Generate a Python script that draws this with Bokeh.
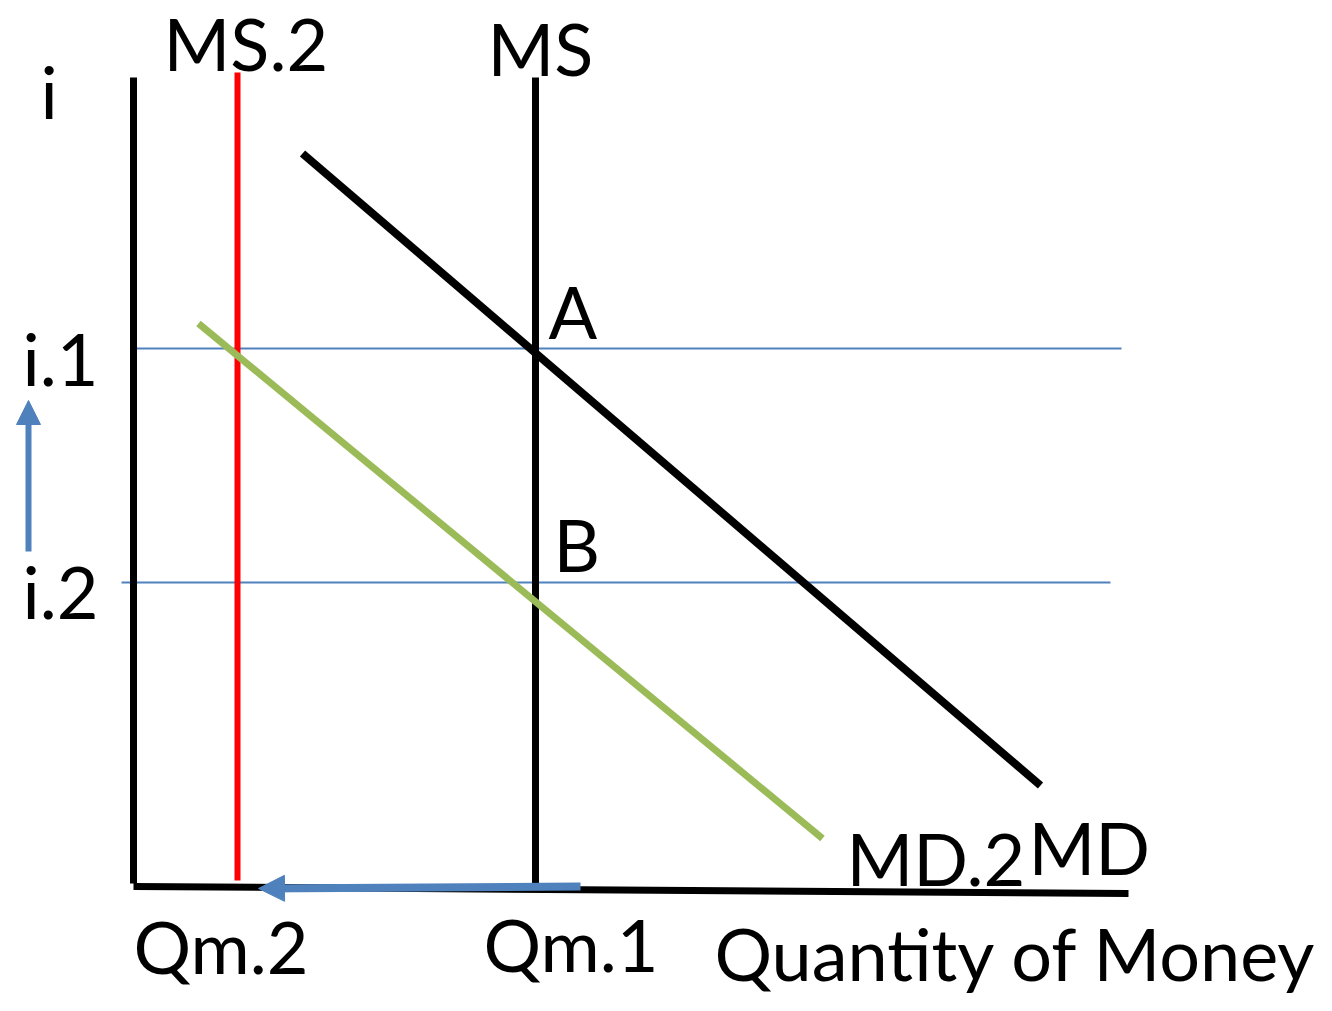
from bokeh.plotting import figure
from bokeh.models import Range1d, Arrow, NormalHead
from bokeh.core.properties import value
from bokeh.embed import file_html
from bokeh.resources import INLINE

# Diagram data (x = quantity of money, y = interest rate; y grows downward as in the drawing)
y_axis_q = [133, 133]
y_axis_i = [77, 883]
x_axis_q = [133, 1128]
x_axis_i = [886, 893]

ms_q = [535, 535]
ms_i = [77, 883]
ms2_q = [237, 237]
ms2_i = [72, 880]

md_q = [302, 1040]
md_i = [153, 785]
md2_q = [198, 822]
md2_i = [323, 838]

i1_q = [133, 1121]
i1_i = [348, 348]
i2_q = [121, 1110]
i2_i = [582, 582]

# arrows: rate rises, quantity falls
rate_arrow_q = [28, 28]
rate_arrow_i = [551, 400]
qty_arrow_q = [580, 258]
qty_arrow_i = [886, 888]

labels = ["i", "MS.2", "MS", "A", "B", "i.1", "i.2", "MD.2", "MD", "Qm.2", "Qm.1", "Quantity of Money"]
label_q = [40, 163, 487, 548, 553, 22, 22, 846, 1028, 133, 483, 714]
label_i = [90, 42, 47, 310, 543, 357, 590, 857, 846, 945, 943, 952]

W, H = 1316, 995
p = figure(width=W, height=H, output_backend="svg", toolbar_location=None,
           x_range=Range1d(0, W), y_range=Range1d(H, 0),
           min_border=0, background_fill_color="white", border_fill_color="white")
p.axis.visible = False
p.grid.visible = False
p.outline_line_color = None

black = "#000000"
blue = "#4F81BD"
p.line(i1_q, i1_i, line_color=blue, line_width=2)
p.line(i2_q, i2_i, line_color=blue, line_width=2)
p.line(y_axis_q, y_axis_i, line_color=black, line_width=7)
p.line(x_axis_q, x_axis_i, line_color=black, line_width=7)
p.line(ms_q, ms_i, line_color=black, line_width=7)
p.line(ms2_q, ms2_i, line_color="#FF0000", line_width=6)
p.line(md_q, md_i, line_color=black, line_width=8)
p.line(md2_q, md2_i, line_color="#9BBB59", line_width=7)

p.add_layout(Arrow(end=NormalHead(size=24, fill_color=blue, line_color=blue),
                   x_start=rate_arrow_q[0], y_start=rate_arrow_i[0],
                   x_end=rate_arrow_q[1], y_end=rate_arrow_i[1],
                   line_color=blue, line_width=6))
p.add_layout(Arrow(end=NormalHead(size=26, fill_color=blue, line_color=blue),
                   x_start=qty_arrow_q[0], y_start=qty_arrow_i[0],
                   x_end=qty_arrow_q[1], y_end=qty_arrow_i[1],
                   line_color=blue, line_width=8))

p.text(x=label_q, y=label_i, text=labels, text_font=value("Lato"),
       text_font_size="72px", text_color=black, text_baseline="alphabetic", text_align="left")

open("out.html", "w").write(file_html(p, INLINE))
